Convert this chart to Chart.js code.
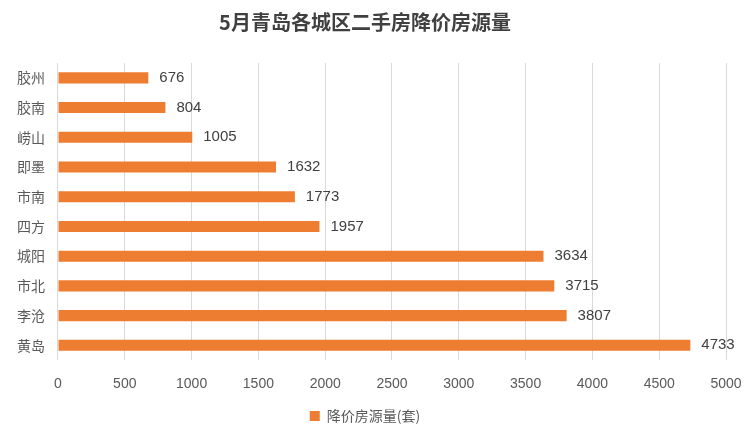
<!DOCTYPE html>
<html><head><meta charset="utf-8">
<script src="https://cdn.jsdelivr.net/npm/chart.js@4/dist/chart.umd.min.js"></script>
<style>html,body{margin:0;padding:0;background:#fff;}#wrap{width:750px;height:436px;}</style>
</head><body><div id="wrap"><canvas id="c" width="750" height="436"></canvas></div>
<script>
const categories = ["胶州","胶南","崂山","即墨","市南","四方","城阳","市北","李沧","黄岛"];
const values = [676, 804, 1005, 1632, 1773, 1957, 3634, 3715, 3807, 4733];
const seriesName = "降价房源量(套)";
const titleText = "5月青岛各城区二手房降价房源量";

const cjk = "'Noto Sans CJK SC', 'Noto Sans', sans-serif";
const labelPlugin = {
  id: 'barLabels',
  afterDatasetsDraw(chart) {
    const ctx = chart.ctx;
    const meta = chart.getDatasetMeta(0);
    ctx.save();
    ctx.font = "15px 'Liberation Sans', Arial, sans-serif";
    ctx.fillStyle = '#404040';
    ctx.textBaseline = 'middle';
    ctx.textAlign = 'left';
    meta.data.forEach((bar, i) => {
      ctx.fillText(String(values[i]), bar.x + 11, bar.y);
    });
    ctx.restore();
  }
};

new Chart(document.getElementById('c'), {
  type: 'bar',
  data: {
    labels: categories,
    datasets: [{
      label: seriesName,
      data: values,
      backgroundColor: '#ED7D31',
      borderWidth: 0,
      barPercentage: 0.6,
      categoryPercentage: 0.62
    }]
  },
  options: {
    indexAxis: 'y',
    responsive: false,
    animation: false,
    layout: { padding: { left: 4, right: 24, top: 4, bottom: 3 } },
    plugins: {
      title: {
        display: true,
        text: titleText,
        color: '#404040',
        font: { family: cjk, size: 20, weight: 'bold' },
        padding: { top: 6, bottom: 29 }
      },
      legend: {
        position: 'bottom',
        labels: {
          color: '#595959',
          font: { family: cjk, size: 14 },
          boxWidth: 10, boxHeight: 10,
          padding: 0
        }
      },
      tooltip: { enabled: false }
    },
    scales: {
      x: {
        min: 0, max: 5000,
        afterFit: (s) => { s.paddingRight = 10; },
        ticks: { stepSize: 500, color: '#595959', font: { family: "'Liberation Sans', Arial, sans-serif", size: 14 }, padding: 16,
          callback: (v) => String(v) },
        grid: { color: '#d9d9d9', drawTicks: false },
        border: { display: false }
      },
      y: {
        ticks: { color: '#595959', font: { family: cjk, size: 14 }, padding: 13 },
        grid: { display: false, drawTicks: false },
        border: { display: false }
      }
    }
  },
  plugins: [labelPlugin]
});
</script></body></html>
